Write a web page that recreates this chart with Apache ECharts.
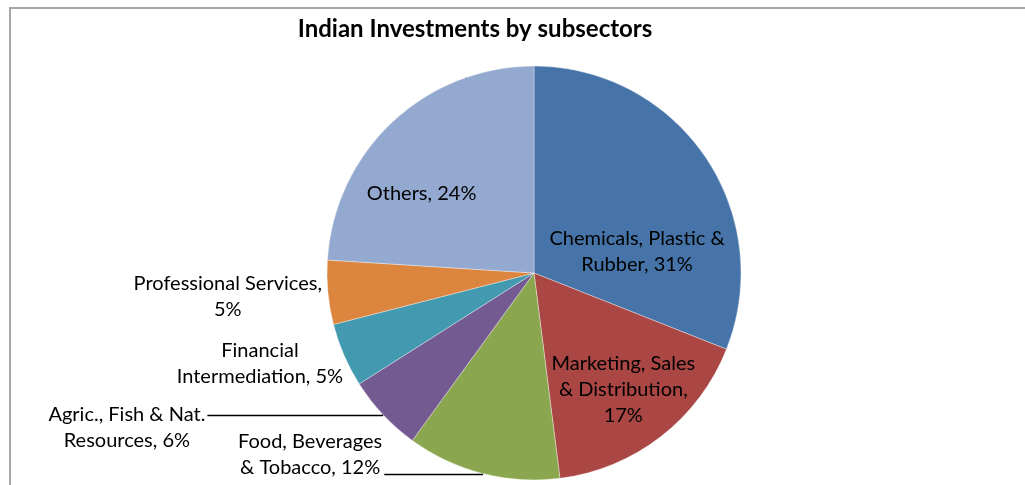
<!DOCTYPE html>
<html>
<head>
<meta charset="utf-8">
<title>Indian Investments by subsectors</title>
<script src="https://cdn.jsdelivr.net/npm/echarts@6/dist/echarts.min.js"></script>
<style>
  html, body { margin: 0; padding: 0; background: #fff; }
  #main { width: 1025px; height: 485px; }
</style>
</head>
<body>
<div id="main"></div>
<script>
// 图表数据
var chartTitle = 'Indian Investments by subsectors';
var categories = [
  'Chemicals, Plastic & Rubber',
  'Marketing, Sales & Distribution',
  'Food, Beverages & Tobacco',
  'Agric., Fish & Nat. Resources',
  'Financial Intermediation',
  'Professional Services',
  'Others'
];
var shares = [31, 17, 12, 6, 5, 5, 24];
// 标签文字的换行方式（同 Excel 原图）
var labelNames = [
  'Chemicals, Plastic &\nRubber',
  'Marketing, Sales\n& Distribution',
  'Food, Beverages\n& Tobacco',
  'Agric., Fish & Nat.\nResources',
  'Financial\nIntermediation',
  'Professional Services',
  'Others'
];
var labelSeps = [', ', ',\n', ', ', ', ', ', ', ',\n', ', '];

// Excel 2007 配色
var colors = ['#4674A9', '#AA4744', '#8AA64F', '#735A90', '#4399AF', '#DB853F', '#94A9D0'];

var FONT = 'Lato';

// 每个扇区的标签位置（padding 用来微调文字位置）
var itemLabels = [
  { label: { position: 'inside', padding: [76, 0, 0, 30] } },
  { label: { position: 'inside', padding: [64, 0, 0, 48] } },
  { label: { position: 'outside', padding: [0, 0, 40, 0], distanceToLabelLine: 2 },
    labelLine: { show: true, length: 1, length2: 98 } },
  { label: { position: 'outside', padding: [25, 0, 0, 0], distanceToLabelLine: 2 },
    labelLine: { show: true, length: 1, length2: 175 } },
  { label: { position: 'outside', padding: [15, 0, 0, 0], distanceToLabelLine: 0 },
    labelLine: { show: false, length: 1, length2: 0 } },
  { label: { position: 'outside', padding: [8, 0, 0, 0], distanceToLabelLine: 5 },
    labelLine: { show: false, length: 1, length2: 0 } },
  { label: { position: 'inside' } }
];
// "Others" 标签需要移出扇区中线，用 labelLayout 偏移
var labelShift = { 6: [-39.5, -1.5] };

var chart = echarts.init(document.getElementById('main'), null, { renderer: 'canvas' });

var pieData = categories.map(function (name, i) {
  var item = { name: name, value: shares[i], itemStyle: { color: colors[i] } };
  item.label = itemLabels[i].label;
  if (itemLabels[i].labelLine) item.labelLine = itemLabels[i].labelLine;
  return item;
});

var option = {
  animation: false,
  graphic: [
    {
      // 图表外框
      type: 'rect',
      silent: true,
      shape: { x: 10, y: 8, width: 1200, height: 700 },
      style: { fill: 'none', stroke: '#a6a6a6', lineWidth: 2 }
    },
    {
      type: 'text',
      silent: true,
      x: 475,
      y: 29,
      style: {
        text: chartTitle,
        align: 'center',
        verticalAlign: 'middle',
        fontFamily: FONT,
        fontWeight: 'bold',
        fontSize: 24,
        fill: '#000'
      }
    }
  ],
  series: [{
    type: 'pie',
    center: [534, 273],
    radius: 207,
    startAngle: 90,
    clockwise: true,
    avoidLabelOverlap: false,
    itemStyle: { borderColor: 'rgba(255,255,255,0.6)', borderWidth: 0.6 },
    label: {
      color: '#000',
      fontFamily: FONT,
      fontSize: 20,
      lineHeight: 26,
      formatter: function (p) {
        var txt = labelNames[p.dataIndex] + labelSeps[p.dataIndex] + p.value + '%';
        return txt.split('\n').map(function (s) { return '{c|' + s + '}'; }).join('\n');
      },
      rich: {
        c: { align: 'center', color: '#000', fontFamily: FONT, fontSize: 20, lineHeight: 26 }
      }
    },
    labelLine: { lineStyle: { color: '#000', width: 1.5 } },
    labelLayout: function (p) {
      var s = labelShift[p.dataIndex];
      if (!s) return { hideOverlap: false };
      var r = p.labelRect;
      return {
        hideOverlap: false,
        x: r.x + r.width / 2 + s[0],
        y: r.y + r.height / 2 + s[1]
      };
    },
    emphasis: { disabled: true },
    data: pieData
  }]
};

chart.setOption(option);
</script>
</body>
</html>
